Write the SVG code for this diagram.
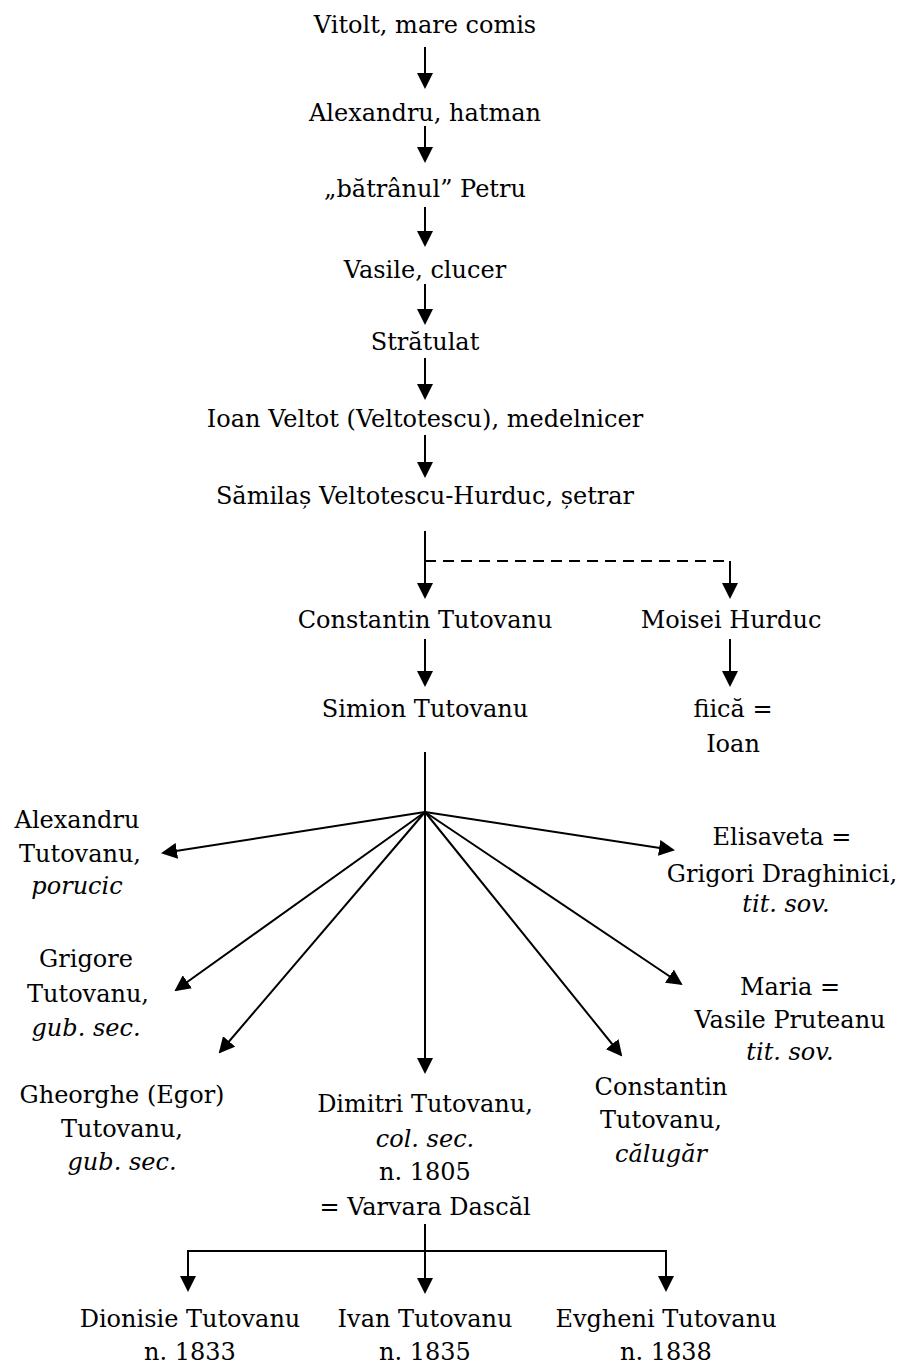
<svg xmlns="http://www.w3.org/2000/svg" width="906" height="1364" viewBox="0 0 906 1364">
<style>
text{font-family:"DejaVu Serif","Liberation Serif",serif;font-size:24px;fill:#000;text-anchor:middle}
.i{font-style:italic}
.c line,.c path{stroke:#000;stroke-width:2;fill:none}
.d{stroke-dasharray:11 7}
</style>
<defs>
<marker id="ah" markerUnits="userSpaceOnUse" markerWidth="16" markerHeight="16" refX="14" refY="8" orient="auto" viewBox="0 0 16 16">
<path d="M0,0 L16,8 L0,16 z" fill="#000"/>
</marker>
</defs>
<rect width="906" height="1364" fill="#fff"/>
<g class="c" id="connectors">
<line x1="425" y1="47" x2="425" y2="87" marker-end="url(#ah)"/>
<line x1="425" y1="126" x2="425" y2="161" marker-end="url(#ah)"/>
<line x1="425" y1="207" x2="425" y2="245" marker-end="url(#ah)"/>
<line x1="425" y1="284" x2="425" y2="323" marker-end="url(#ah)"/>
<line x1="425" y1="358" x2="425" y2="398" marker-end="url(#ah)"/>
<line x1="425" y1="435" x2="425" y2="476" marker-end="url(#ah)"/>
<line x1="425" y1="531" x2="425" y2="597" marker-end="url(#ah)"/>
<line class="d" x1="425" y1="561" x2="730" y2="561"/>
<line x1="730" y1="561" x2="730" y2="597" marker-end="url(#ah)"/>
<line x1="425" y1="639" x2="425" y2="685" marker-end="url(#ah)"/>
<line x1="730" y1="639" x2="730" y2="685" marker-end="url(#ah)"/>
<line x1="425" y1="752" x2="425" y2="812"/>
<line x1="425" y1="812" x2="163" y2="853" marker-end="url(#ah)"/>
<line x1="425" y1="812" x2="176" y2="990" marker-end="url(#ah)"/>
<line x1="425" y1="812" x2="220" y2="1052" marker-end="url(#ah)"/>
<line x1="425" y1="812" x2="425" y2="1072" marker-end="url(#ah)"/>
<line x1="425" y1="812" x2="621" y2="1055" marker-end="url(#ah)"/>
<line x1="425" y1="812" x2="681" y2="984" marker-end="url(#ah)"/>
<line x1="425" y1="812" x2="673" y2="850" marker-end="url(#ah)"/>
<line x1="425" y1="1224" x2="425" y2="1292" marker-end="url(#ah)"/>
<line x1="188" y1="1251" x2="666" y2="1251"/>
<line x1="188" y1="1250" x2="188" y2="1290" marker-end="url(#ah)"/>
<line x1="666" y1="1250" x2="666" y2="1290" marker-end="url(#ah)"/>
</g>
<g id="n_vitolt"><text x="425" y="33">Vitolt, mare comis</text></g>
<g id="n_alexandru_hatman"><text x="425" y="121">Alexandru, hatman</text></g>
<g id="n_petru"><text x="425" y="197">„bătrânul” Petru</text></g>
<g id="n_vasile"><text x="425" y="278">Vasile, clucer</text></g>
<g id="n_stratulat"><text x="425" y="350">Strătulat</text></g>
<g id="n_ioan_veltot"><text x="425" y="427">Ioan Veltot (Veltotescu), medelnicer</text></g>
<g id="n_samilas"><text x="425" y="504">Sămilaș Veltotescu-Hurduc, șetrar</text></g>
<g id="n_constantin"><text x="425" y="628">Constantin Tutovanu</text></g>
<g id="n_moisei"><text x="731" y="628">Moisei Hurduc</text></g>
<g id="n_simion"><text x="425" y="717">Simion Tutovanu</text></g>
<g id="n_fiica"><text x="733" y="717">fiică =</text><text x="733" y="752">Ioan</text></g>
<g id="n_alexandru_t"><text x="77" y="828">Alexandru</text><text x="80" y="862">Tutovanu,</text><text x="77" y="894" class="i">porucic</text></g>
<g id="n_grigore"><text x="86" y="967">Grigore</text><text x="88" y="1002">Tutovanu,</text><text x="86" y="1036" class="i">gub. sec.</text></g>
<g id="n_gheorghe"><text x="122" y="1103">Gheorghe (Egor)</text><text x="122" y="1137">Tutovanu,</text><text x="122" y="1170" class="i">gub. sec.</text></g>
<g id="n_dimitri"><text x="425" y="1112">Dimitri Tutovanu,</text><text x="425" y="1147" class="i">col. sec.</text><text x="425" y="1180">n. 1805</text><text x="425" y="1215">= Varvara Dascăl</text></g>
<g id="n_constantin_t"><text x="661" y="1095">Constantin</text><text x="661" y="1128">Tutovanu,</text><text x="661" y="1162" class="i">călugăr</text></g>
<g id="n_elisaveta"><text x="782" y="845">Elisaveta =</text><text x="782" y="882">Grigori Draghinici,</text><text x="786" y="912" class="i">tit. sov.</text></g>
<g id="n_maria"><text x="790" y="995">Maria =</text><text x="790" y="1028">Vasile Pruteanu</text><text x="790" y="1060" class="i">tit. sov.</text></g>
<g id="n_dionisie"><text x="190" y="1327">Dionisie Tutovanu</text><text x="190" y="1360">n. 1833</text></g>
<g id="n_ivan"><text x="425" y="1327">Ivan Tutovanu</text><text x="425" y="1360">n. 1835</text></g>
<g id="n_evgheni"><text x="666" y="1327">Evgheni Tutovanu</text><text x="666" y="1360">n. 1838</text></g>
</svg>
